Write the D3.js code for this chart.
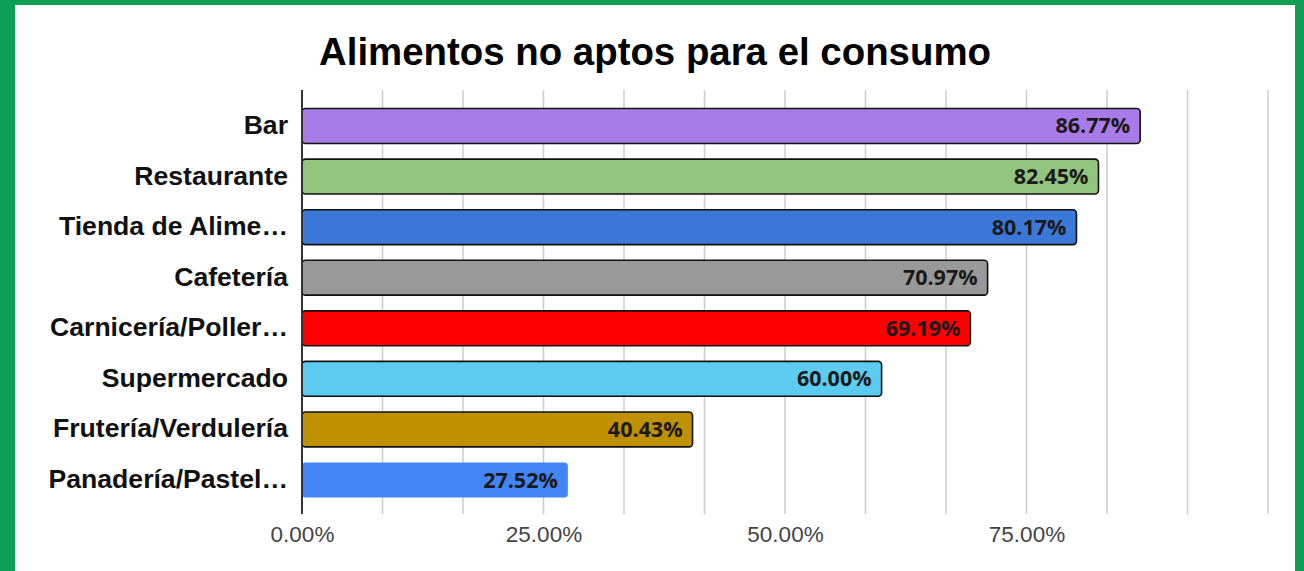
<!DOCTYPE html>
<html><head><meta charset="utf-8">
<script src="https://cdn.jsdelivr.net/npm/d3@7"></script>
<style>html,body{margin:0;padding:0;background:#109d55;}svg{display:block;}</style>
</head><body>
<svg id="c" width="1304" height="571"></svg>
<script>
const title = "Alimentos no aptos para el consumo";
const categories = ["Bar","Restaurante","Tienda de Alime…","Cafetería","Carnicería/Poller…","Supermercado","Frutería/Verdulería","Panadería/Pastel…"];
const values = [0.8677,0.8245,0.8017,0.7097,0.6919,0.60,0.4043,0.2752];
const colors = ["#a97be9","#93c47d","#3c78d8","#999999","#ff0000","#5bcbf0","#bf9000","#4285f4"];
const outlined = [true,true,true,true,true,true,true,false];
const tickValues = [0,0.25,0.5,0.75];
const gridValues = d3.range(0,13).map(i=>i/12);

const svg = d3.select("#c");
svg.append("rect").attr("x",15).attr("y",5).attr("width",1280).attr("height",580).attr("fill","#fff");

const x = d3.scaleLinear().domain([0,1]).range([302,1268]);
const y = d3.scaleBand().domain(categories).range([100.7,505.3]).paddingInner(0.31).paddingOuter(0.155);

svg.append("text").attr("x",655).attr("y",65).attr("text-anchor","middle")
  .attr("font-family","Liberation Sans, Arial, sans-serif").attr("font-weight","bold")
  .attr("font-size",38.4).attr("fill","#000").text(title);

// gridlines
svg.append("g").selectAll("line").data(gridValues).join("line")
  .attr("x1",d=>x(d)).attr("x2",d=>x(d)).attr("y1",90).attr("y2",514)
  .attr("stroke","#cccccc").attr("stroke-width",1.5);

// tick labels
const xAxis = d3.axisBottom(x).tickValues(tickValues).tickFormat(d3.format(".2%")).tickSize(0).tickPadding(0);
const gx = svg.append("g").attr("transform","translate(0,526)").call(xAxis);
gx.select(".domain").remove();
gx.selectAll("text").attr("font-family","Liberation Sans, Arial, sans-serif").attr("font-size",22.5).attr("fill","#444").attr("dy","0.71em");

// bars
svg.append("g").selectAll("rect").data(categories).join("rect")
  .attr("x",x(0)).attr("y",d=>y(d)).attr("width",(d,i)=>x(values[i])-x(0)).attr("height",y.bandwidth())
  .attr("rx",3.5).attr("ry",3.5)
  .attr("fill",(d,i)=>colors[i])
  .attr("stroke",(d,i)=>outlined[i]?"#111":"none").attr("stroke-width",1.6);

// baseline axis
svg.append("line").attr("x1",x(0)).attr("x2",x(0)).attr("y1",90).attr("y2",514).attr("stroke","#333").attr("stroke-width",2);

// category labels
const yAxis = d3.axisLeft(y).tickSize(0).tickPadding(0);
const gy = svg.append("g").attr("transform","translate(288,0)").call(yAxis);
gy.select(".domain").remove();
gy.selectAll("text").attr("font-family","Liberation Sans, Arial, sans-serif").attr("font-weight","bold")
  .attr("font-size",26.6).attr("fill","#111").attr("dy","0.3em");

// data labels
svg.append("g").selectAll("text").data(categories).join("text")
  .attr("x",(d,i)=>x(values[i])-10).attr("y",d=>y(d)+y.bandwidth()/2+7.5)
  .attr("text-anchor","end").attr("font-family","Open Sans, Noto Sans, sans-serif").attr("font-weight",700)
  .attr("font-size",21.5).attr("fill","#1a1a1a")
  .text((d,i)=>d3.format(".2%")(values[i]));
</script>
</body></html>
